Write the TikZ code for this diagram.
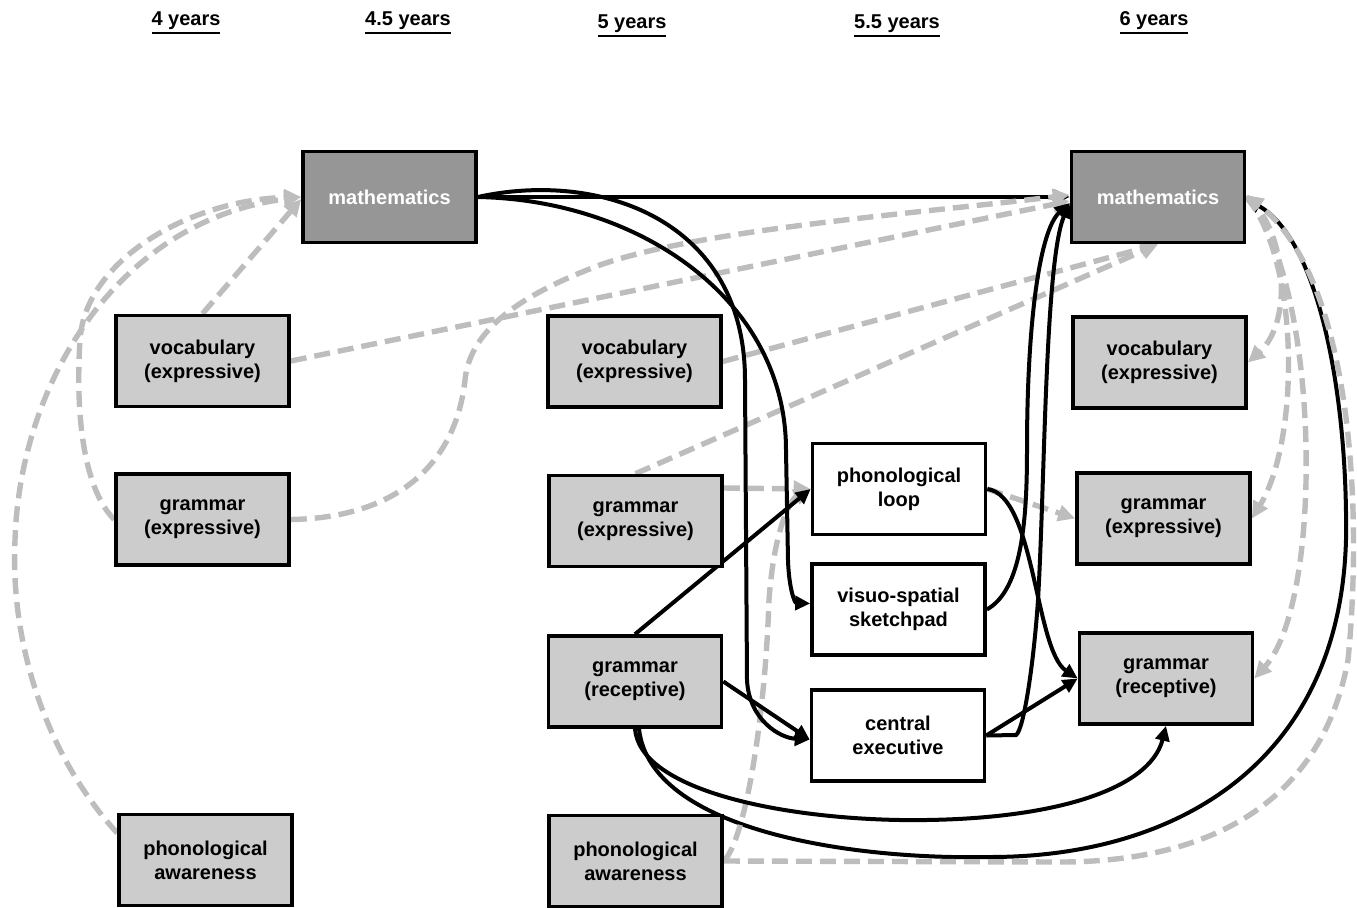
\documentclass[tikz,border=0pt]{standalone}
\usepackage{fontspec}
\setmainfont{Liberation Sans}
\usetikzlibrary{arrows.meta}
\definecolor{boxgray}{HTML}{CCCCCC}
\definecolor{mathgray}{HTML}{969696}
\definecolor{dashgray}{HTML}{BDBDBD}
\pgfdeclarelayer{bg}
\pgfsetlayers{bg,main}
\newcommand\yrs[1]{\vtop{\hbox{#1}\kern1pt\hrule height 1.1pt}}
\begin{document}
\begin{tikzpicture}[x=0.5pt,y=-0.5pt,
  box/.style={draw=black, line width=1.8pt, minimum width=86.5pt, minimum height=45.5pt, align=center, font=\bfseries\fontsize{10}{12}\selectfont, inner sep=0pt},
  lbox/.style={box, fill=boxgray},
  mbox/.style={box, fill=mathgray, text=white},
  wbox/.style={box, fill=white},
  yr/.style={anchor=base, font=\bfseries\fontsize{10}{12}\selectfont, inner sep=0pt},
  blk/.style={draw=black, line width=2pt, -{Triangle[length=7.5pt,width=7pt]}},
  gd/.style={draw=dashgray, line width=2.7pt, dash pattern=on 8pt off 4pt, -{Triangle[length=8.5pt,width=8pt]}},
]
\useasboundingbox (0,0) rectangle (1357,907);
% headers
\node[yr] (y1) at (186,25.5) {\yrs{4 years}};
\node[yr] (y2) at (408,25.5) {\yrs{4.5 years}};
\node[yr] (y3) at (632,28.5) {\yrs{5 years}};
\node[yr] (y4) at (897,28.5) {\yrs{5.5 years}};
\node[yr] (y5) at (1154,25.5) {\yrs{6 years}};
% boxes
\node[mbox] (m1) at (389.5,197) {mathematics};
\node[lbox] (v1) at (202.5,361) {vocabulary\\(expressive)};
\node[lbox] (ge1) at (202.5,519.5) {grammar\\(expressive)};
\node[lbox] (pa1) at (205.5,860) {phonological\\awareness};
\node[lbox] (v5) at (634.5,361.5) {vocabulary\\(expressive)};
\node[lbox] (ge5) at (635.5,521) {grammar\\(expressive)};
\node[lbox] (gr5) at (635,681.5) {grammar\\(receptive)};
\node[lbox] (pa5) at (635.5,861) {phonological\\awareness};
\node[wbox] (pl) at (899,489) {phonological\\loop};
\node[wbox] (vs) at (898.5,609.5) {visuo-spatial\\sketchpad};
\node[wbox] (ce) at (898,735.5) {central\\executive};
\node[mbox] (m6) at (1158,197) {mathematics};
\node[lbox] (v6) at (1159.5,362.5) {vocabulary\\(expressive)};
\node[lbox] (ge6) at (1163.5,518.5) {grammar\\(expressive)};
\node[lbox] (gr6) at (1166,678.5) {grammar\\(receptive)};
\begin{pgfonlayer}{bg}
% black: math 4.5 -> math 6
\draw[blk] (m1.east) -- (m6.west);
% black: grammar receptive 5 -> math 6 (outer loop)
\draw[blk] ([xshift=2pt]gr5.south) .. controls (650,830) and (850,860) .. (990,857) .. controls (1180,857) and (1340,760) .. (1346,540) .. controls (1348,400) and (1320,240) .. ([yshift=-1pt]m6.east);
% gray dashed
\draw[gd] (v1.north) -- ([yshift=-1pt]m1.west);
\draw[gd] (ge1.west) .. controls (85,490) and (75,420) .. (80,340) .. controls (85,260) and (190,200) .. (m1.west);
\draw[gd] ([yshift=13.5pt]pa1.west) .. controls (50,760) and (10,650) .. (15,540) .. controls (20,380) and (120,220) .. (m1.west);
\draw[gd] (ge1.east) .. controls (390,518) and (455,470) .. (465,380) .. controls (470,330) and (520,295) .. (600,265) .. controls (700,230) and (900,215) .. ([yshift=1pt]m6.west);
\draw[gd] (v1.east) -- ([yshift=-2pt]m6.west);
\draw[gd] (v5.east) -- (m6.south);
\draw[gd] (ge5.north) -- (m6.south);
\draw[gd] ([yshift=16.5pt]ge5.east) -- (pl.west);
\draw[gd] (pa5.east) .. controls (745,840) and (765,720) .. (769,600) .. controls (774,530) and (790,500) .. (pl.west);
\draw[gd] (pl.east) -- (ge6.west);
\draw[gd] (pa5.east) -- (1060,862) .. controls (1200,862) and (1320,810) .. (1348,660) .. controls (1362,520) and (1355,280) .. ([yshift=1pt]m6.east);
\draw[gd] (m6.east) .. controls (1285,225) and (1295,320) .. (v6.east);
\draw[gd] (m6.east) .. controls (1300,260) and (1300,440) .. (ge6.east);
\draw[gd] (m6.east) .. controls (1320,280) and (1325,600) .. (gr6.east);
% black
\draw[blk] (m1.east) .. controls (640,200) and (786,300) .. (786,450) -- (788,560) .. controls (789,590) and (795,603) .. ([yshift=3pt]vs.west);
\draw[blk] (m1.east) .. controls (600,170) and (745,220) .. (745,380) -- (747,680) .. controls (749,720) and (780,738) .. ([yshift=-2pt]ce.west);
\draw[blk] (gr5.north) -- (pl.west);
\draw[blk] (gr5.east) -- ([yshift=-2pt]ce.west);
\draw[blk] (gr5.south) .. controls (640,790) and (780,818) .. (900,820) .. controls (1050,822) and (1150,790) .. (gr6.south);
\draw[blk] (pl.east) .. controls (1035,495) and (1035,650) .. (gr6.west);
\draw[blk] (ce.east) -- (gr6.west);
\draw[blk] (vs.east) .. controls (1022,590) and (1027,520) .. (1027,450) .. controls (1027,320) and (1040,230) .. ([yshift=-3pt]m6.west);
\draw[blk] (ce.east) -- (1016,735) .. controls (1024,730) and (1034,660) .. (1038,600) .. controls (1045,480) and (1045,260) .. ([yshift=-3pt]m6.west);
\end{pgfonlayer}
\end{tikzpicture}
\end{document}
